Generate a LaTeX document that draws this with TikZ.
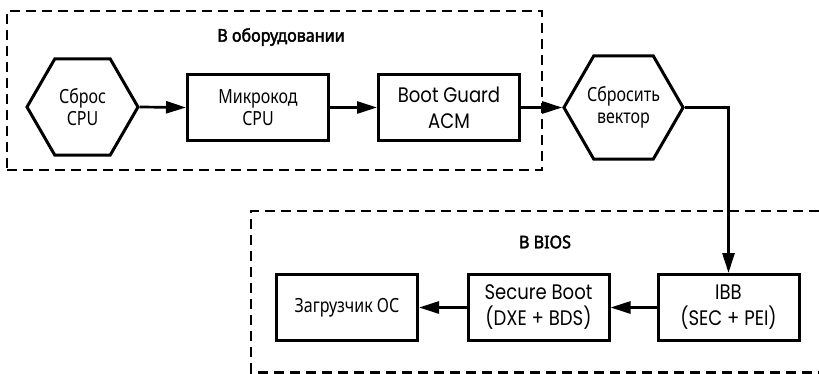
\documentclass[tikz,border=0pt]{standalone}
\usepackage{fontspec}
\setmainfont{Noto Sans}
\newfontfamily\narrowfont{Noto Sans}[FakeStretch=0.82]
\newfontfamily\titlefont{Noto Sans}[FakeStretch=0.92, FakeBold=2.2]
\newfontfamily\geofont{Poppins}[FakeStretch=0.86]
\usetikzlibrary{arrows.meta,shapes.geometric}
\begin{document}
\begin{tikzpicture}[x=1pt,y=-1pt,
  hexbox/.style={draw, line width=3pt, regular polygon, regular polygon sides=6,
    minimum size=111pt, inner sep=0pt, align=center,
    font=\narrowfont\fontsize{19.5}{22}\selectfont},
  rectbox/.style={draw, line width=3pt, minimum width=141pt, minimum height=66pt,
    inner sep=0pt, align=center, font=\narrowfont\fontsize{19.5}{22}\selectfont},
  geobox/.style={rectbox, font=\geofont\fontsize{21}{26}\selectfont},
  arr/.style={line width=2.7pt, -{Triangle[length=20pt,width=12pt]}},
  groupbox/.style={draw, line width=2.3pt, dash pattern=on 10pt off 6pt, inner sep=0pt},
  titletext/.style={font=\titlefont\fontsize{17.5}{20}\selectfont}
]
\useasboundingbox (0,0) rectangle (819,374);
% groups
\node[groupbox, minimum width=535pt, minimum height=159pt] (hw) at (274.5,90.5) {};
\begin{scope}
\clip (0,0) rectangle (819,374);
\coordinate (b1) at (835,211);
\coordinate (b2) at (251,211);
\coordinate (b3) at (251,372.5);
\coordinate (b4) at (835,372.5);
\draw[line width=2.3pt, dash pattern=on 10pt off 6pt] (b1) -- (b2) -- (b3) -- (b4);
\end{scope}
\node[titletext] (t1) at (281,37) {В оборудовании};
\node[titletext] (t2) at (545,242) {В BIOS};
% nodes
\node[hexbox] (cpu) at (82.5,107) {Сброс\\CPU};
\node[rectbox] (mc) at (258,107.5) {Микрокод\\CPU};
\node[geobox] (bg) at (449,107.5) {Boot Guard\\ACM};
\node[hexbox] (rv) at (623.5,107.5) {Сбросить\\вектор};
\node[geobox] (ibb) at (728.5,307.5) {IBB\\(SEC + PEI)};
\node[geobox] (sb) at (538.5,307.5) {Secure Boot\\(DXE + BDS)};
\node[rectbox] (os) at (347,307.5) {Загрузчик ОС};
% connectors
\draw[arr] (cpu.east) -- (mc.west);
\draw[arr] (mc) -- (bg);
\draw[arr] (bg) -- (rv.west);
\draw[arr] (rv.east) -| (ibb.north);
\draw[arr] (ibb) -- (sb);
\draw[arr] (sb) -- (os);
\end{tikzpicture}
\end{document}
